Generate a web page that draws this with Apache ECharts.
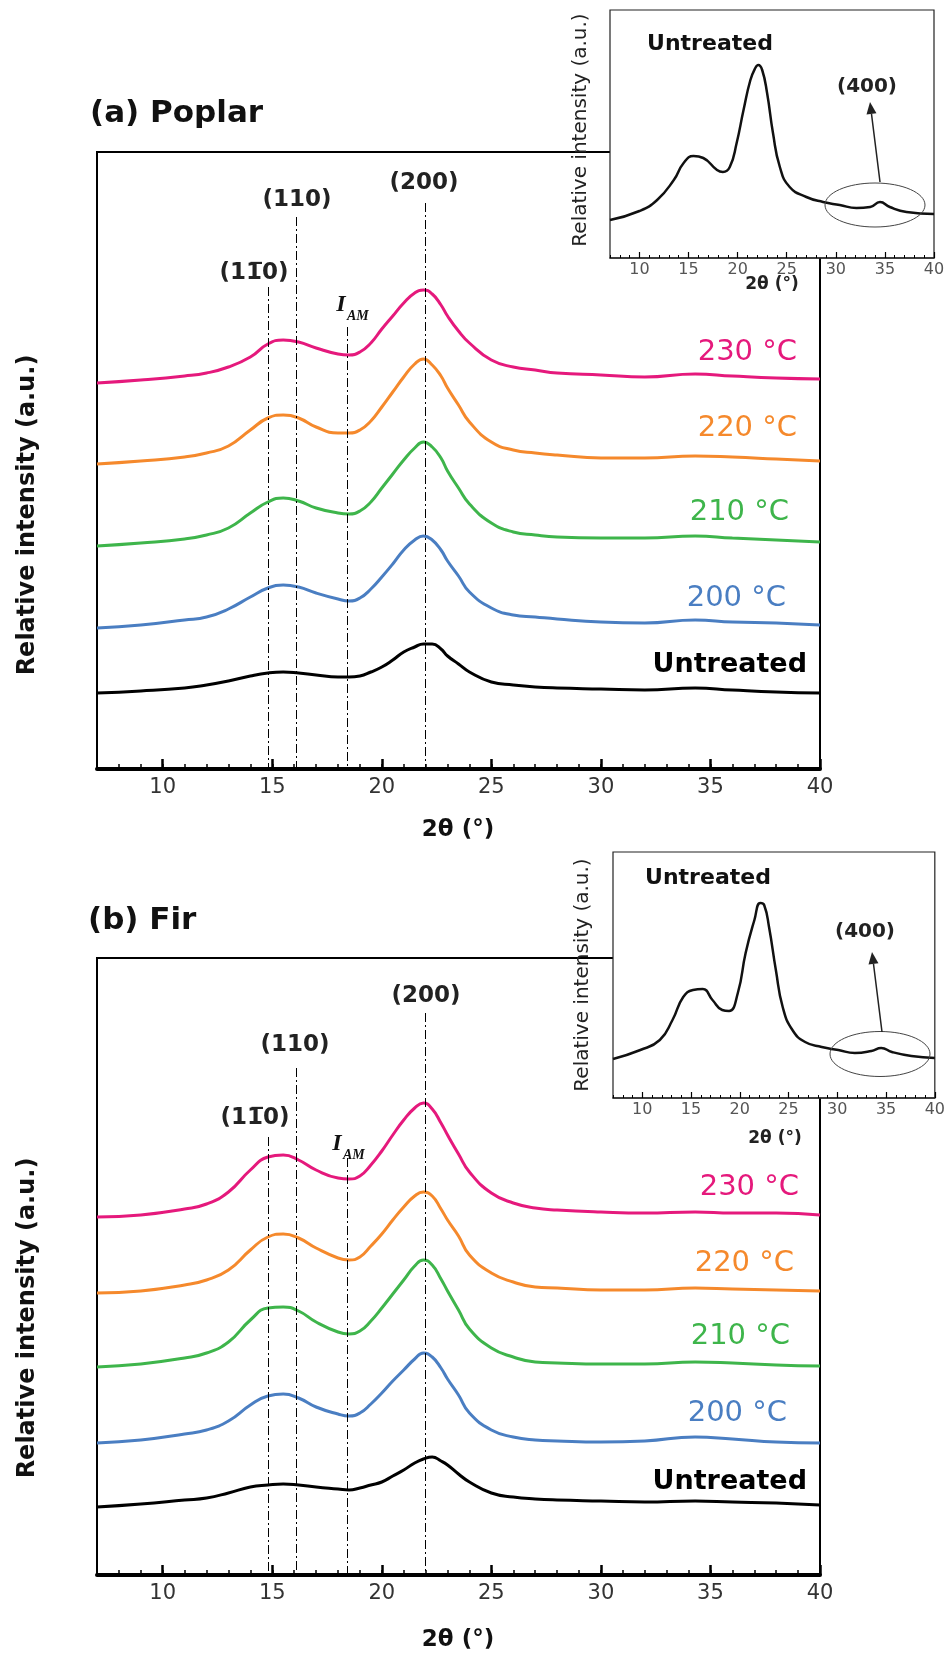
<!DOCTYPE html>
<html><head><meta charset="utf-8">
<script src="https://cdn.jsdelivr.net/npm/echarts@6/dist/echarts.min.js"></script>
<style>html,body{margin:0;padding:0;background:#fff}#c{width:948px;height:1656px}</style>
</head><body><div id="c"></div>
<script>
// ---------- data ----------
const twoTheta = [7, 9, 11, 12, 13, 14, 14.8, 15.5, 16.2, 17, 18, 18.5, 19, 19.5, 20, 20.5, 21, 21.5, 21.9, 22.3, 22.7, 23, 23.5, 24, 25, 26, 27, 28, 30, 32, 34.3, 36, 38, 40];

const poplarUntreated = [76,78,81,84,88,93,96,97,96,94, 92,92,93,97,102,109,117,122,125,125, 120,113,105,97,87,84,82,81,80,79, 81,79,77,76];
const poplar200 = [141,144,149,152,160,172,181,184,182,176, 170,168,171,180,192,205,219,229,233,229, 219,208,193,177,161,154,152,150,147,146, 149,147,146,144];
const poplar210 = [223,226,230,234,241,256,267,271,268,261, 256,255,258,267,281,295,309,321,327,322, 311,298,281,265,246,237,234,232,231,231, 233,231,229,227];
const poplar220 = [305,308,312,316,323,339,351,354,351,342, 336,336,339,348,362,377,392,405,410,404, 393,381,364,347,327,319,316,314,311,311, 313,312,310,308];
const poplar230 = [386,389,393,396,402,412,425,429,427,421, 415,414,417,426,440,453,466,476,479,475, 464,453,438,426,409,402,399,396,394,392, 395,393,391,390];

const firUntreated = [68,71,75,77,82,88,90,91,90,88, 86,85,87,90,93,99,105,112,116,118, 114,110,101,93,82,78,76,75,74,73, 74,73,72,70];
const fir200 = [132,135,141,145,154,170,179,181,177,168, 161,159,162,171,182,194,205,216,222,218, 207,196,180,162,145,138,135,134,133,134, 138,136,133,132];
const fir210 = [208,211,217,222,233,255,267,268,264,253, 243,241,244,254,267,281,295,309,315,310, 296,284,265,246,227,218,213,212,211,211, 213,212,210,209];
const fir220 = [282,284,290,295,305,325,338,341,337,327, 317,315,318,329,341,355,368,379,383,379, 366,355,339,320,302,293,288,287,285,285, 287,286,285,284];
const fir230 = [358,360,366,371,383,405,418,420,415,405, 397,396,399,410,424,440,455,467,472,466, 452,440,421,403,382,372,367,365,363,362, 363,362,362,360];

const insetThetaPoplar = [7, 10, 11.8, 13.5, 14.5, 15.5, 16.5, 17.9, 18.5, 19.2, 19.9, 20.6, 21.3, 21.8, 22.1, 22.5, 23, 23.6, 24.3, 25.3, 27, 28.7, 30.4, 32.1, 33.5, 34.5, 35.5, 37.2, 40];
const insetPoplarUntreated = [38, 47, 58, 78, 95, 102, 100, 88, 86, 91, 115, 148, 178, 190, 193, 188, 165, 125, 91, 71, 61, 56, 53, 50, 51, 56, 51, 46, 44];
const insetThetaFir = [7, 9.8, 11.8, 13.1, 14.2, 15.2, 16.2, 17.2, 18.2, 18.9, 19.8, 20.6, 21.5, 22.1, 22.5, 23, 23.7, 24.4, 25.4, 26.7, 28.4, 30.1, 31.8, 33.5, 34.5, 35.6, 37.6, 40];
const insetFirUntreated = [39, 48, 58, 78, 101, 108, 109, 98, 88, 87, 105, 145, 178, 195, 193, 171, 128, 91, 68, 56, 51, 48, 45, 47, 50, 46, 42, 40];

const majorTicks = [10, 15, 20, 25, 30, 35, 40];
const seriesNames = ['Untreated', '200 °C', '210 °C', '220 °C', '230 °C'];
const seriesColors = ['#000000', '#4a7ec2', '#3eb54b', '#f5892c', '#e5197c'];
const peakPositions = [14.8, 16.1, 18.4, 22.0];
const peakTopsPoplar = [482, 552, 442, 566];
const peakTopsFir = [438, 507, 417, 562];

// ---------- chart ----------
const FONT = 'DejaVu Sans';
const SERIF = 'Liberation Serif';
const SMOOTH = 0.5;
const chart = echarts.init(document.getElementById('c'), null, {renderer: 'canvas'});
const pairs = (xs, ys) => xs.map((x, i) => [x, ys[i]]);
const fmt5 = v => (v % 5 === 0 ? String(v) : '');

const grid = [
  {left: 97, top: 152, width: 723, height: 617, show: true, borderColor: '#000', borderWidth: 2, backgroundColor: 'rgba(0,0,0,0)', z: 0},
  {left: 610, top: 10, width: 324, height: 248, show: true, borderColor: '#222', borderWidth: 1.2, backgroundColor: '#fff', z: 10},
  {left: 97, top: 958, width: 723, height: 617, show: true, borderColor: '#000', borderWidth: 2, backgroundColor: 'rgba(0,0,0,0)', z: 0},
  {left: 613, top: 852, width: 324, height: 246, show: true, borderColor: '#222', borderWidth: 1.2, backgroundColor: '#fff', z: 10}
];

function xPair(g, inset) {
  const z = inset ? 11 : 1;
  return [
    {gridIndex: g, type: 'value', min: 7, max: 40, interval: 1, position: 'bottom', z: z,
     axisLine: {show: true, onZero: false, lineStyle: {color: inset ? '#222' : '#000', width: inset ? 1.5 : 4}},
     axisTick: {show: true, inside: true, length: inset ? 3 : 5, lineStyle: {color: '#000', width: inset ? 1 : 1.5}},
     axisLabel: {show: true, formatter: fmt5, margin: inset ? 4 : 8, fontSize: inset ? 16 : 21, fontFamily: FONT, color: inset ? '#555' : '#333'},
     splitLine: {show: false}},
    {gridIndex: g, type: 'value', min: 7, max: 40, interval: 1, position: 'bottom', z: z,
     axisLine: {show: false, onZero: false},
     axisTick: {show: true, inside: true, length: inset ? 6 : 10, customValues: majorTicks, lineStyle: {color: '#000', width: inset ? 1.2 : 2.5}},
     axisLabel: {show: false},
     splitLine: {show: false}}
  ];
}
const xAxis = [].concat(xPair(0, false), xPair(1, true), xPair(2, false), xPair(3, true));
const yAxis = [
  {gridIndex: 0, type: 'value', min: 0, max: 617, show: false},
  {gridIndex: 1, type: 'value', min: 0, max: 248, show: false},
  {gridIndex: 2, type: 'value', min: 0, max: 617, show: false},
  {gridIndex: 3, type: 'value', min: 0, max: 246, show: false}
];

const series = [];
function addPanel(xi, yi, curves, tops) {
  curves.forEach((vals, i) => {
    const s = {
      type: 'line', name: seriesNames[i], xAxisIndex: xi, yAxisIndex: yi,
      data: pairs(twoTheta, vals), symbol: 'none', showSymbol: false, smooth: SMOOTH,
      lineStyle: {color: seriesColors[i], width: 3}, z: 3, silent: true, animation: false
    };
    if (i === 0) {
      s.markLine = {
        silent: true, symbol: ['none', 'none'], animation: false, label: {show: false},
        lineStyle: {color: '#000', width: 1, type: [9, 3, 2, 3]},
        data: peakPositions.map((x, k) => [{coord: [x, tops[k]]}, {coord: [x, 0]}])
      };
    }
    series.push(s);
  });
}
addPanel(0, 0, [poplarUntreated, poplar200, poplar210, poplar220, poplar230], peakTopsPoplar);
addPanel(4, 2, [firUntreated, fir200, fir210, fir220, fir230], peakTopsFir);
series.push({type: 'line', name: 'Untreated inset (a)', xAxisIndex: 2, yAxisIndex: 1, data: pairs(insetThetaPoplar, insetPoplarUntreated),
  symbol: 'none', smooth: SMOOTH, lineStyle: {color: '#111', width: 2.5}, z: 12, silent: true, animation: false});
series.push({type: 'line', name: 'Untreated inset (b)', xAxisIndex: 6, yAxisIndex: 3, data: pairs(insetThetaFir, insetFirUntreated),
  symbol: 'none', smooth: SMOOTH, lineStyle: {color: '#111', width: 2.5}, z: 12, silent: true, animation: false});

// ---------- annotations ----------
function txt(x, y, text, o) {
  const el = {type: 'text', x: x, y: y, z: 100, silent: true,
    style: Object.assign({text: text, fontFamily: FONT, fontSize: 20, fill: '#000', align: 'center', verticalAlign: 'middle'}, o || {})};
  if (o && o.rot) { el.rotation = o.rot; delete el.style.rot; }
  return el;
}
function arrow(x1, y1, x2, y2) {
  const dx = x2 - x1, dy = y2 - y1, L = Math.hypot(dx, dy), ux = dx / L, uy = dy / L;
  const bx = x2 - ux * 12, by = y2 - uy * 12, px = -uy * 5, py = ux * 5;
  return [
    {type: 'line', z: 100, silent: true, shape: {x1: x1, y1: y1, x2: bx, y2: by}, style: {stroke: '#222', lineWidth: 1.5}},
    {type: 'polygon', z: 100, silent: true, shape: {points: [[x2, y2], [bx + px, by + py], [bx - px, by - py]]}, style: {fill: '#222'}}
  ];
}
function panelTexts(p) {
  const e = [];
  e.push(txt(p.titleX, p.titleY, p.title, {fontWeight: 'bold', fontSize: 31, align: 'left', fill: '#111'}));
  e.push(txt(p.l1[0], p.l1[1], '(11\u03050)', {fontWeight: 'bold', fontSize: 23, fill: '#222'}));
  e.push(txt(p.l2[0], p.l2[1], '(110)', {fontWeight: 'bold', fontSize: 23, fill: '#222'}));
  e.push(txt(p.l3[0], p.l3[1], '(200)', {fontWeight: 'bold', fontSize: 23, fill: '#222'}));
  e.push(txt(p.iam[0], p.iam[1], 'I', {fontFamily: SERIF, fontStyle: 'italic', fontWeight: 'bold', fontSize: 24, fill: '#111'}));
  e.push(txt(p.iam[0] + 6, p.iam[1] + 11, 'AM', {fontFamily: SERIF, fontStyle: 'italic', fontWeight: 'bold', fontSize: 14, align: 'left', fill: '#111'}));
  for (let i = 4; i >= 1; i--) {
    e.push(txt(p.cl[i][0], p.cl[i][1], seriesNames[i], {fontSize: 29, align: 'right', fill: seriesColors[i]}));
  }
  e.push(txt(p.cl[0][0], p.cl[0][1], seriesNames[0], {fontSize: 27, fontWeight: 'bold', align: 'right', fill: '#000'}));
  e.push(txt(458, p.xnY, '2θ (°)', {fontSize: 23, fontWeight: 'bold', fill: '#111'}));
  e.push(txt(28, p.ynY, 'Relative intensity (a.u.)', {fontSize: 24, fontWeight: 'bold', fill: '#111', rot: Math.PI / 2}));
  // inset
  e.push(txt(p.iu[0], p.iu[1], 'Untreated', {fontSize: 22, fontWeight: 'bold', fill: '#111'}));
  e.push(txt(p.i400[0], p.i400[1], '(400)', {fontSize: 20, fontWeight: 'bold', fill: '#222'}));
  e.push(txt(p.ix[0], p.ix[1], '2θ (°)', {fontSize: 17, fontWeight: 'bold', fill: '#222'}));
  e.push(txt(p.iy[0], p.iy[1], 'Relative intensity (a.u.)', {fontSize: 20, fill: '#222', rot: Math.PI / 2}));
  e.push({type: 'ellipse', z: 100, silent: true, shape: {cx: p.ell[0], cy: p.ell[1], rx: p.ell[2], ry: p.ell[3]}, style: {fill: 'rgba(0,0,0,0)', stroke: '#444', lineWidth: 1}});
  return e.concat(arrow(p.arr[0], p.arr[1], p.arr[2], p.arr[3]));
}
const elements = [].concat(
  panelTexts({title: '(a) Poplar', titleX: 90, titleY: 114,
    l1: [254, 273], l2: [297, 200], l3: [424, 183], iam: [341, 305],
    cl: [[807, 665], [786, 598], [789, 512], [797, 428], [797, 352]],
    xnY: 830, ynY: 515,
    iu: [710, 44], i400: [867, 87], ix: [772, 285], iy: [581, 130],
    ell: [875, 205, 50, 22], arr: [880, 182, 870, 102]}),
  panelTexts({title: '(b) Fir', titleX: 88, titleY: 921,
    l1: [255, 1118], l2: [295, 1045], l3: [426, 996], iam: [337, 1144],
    cl: [[807, 1482], [787, 1413], [790, 1336], [794, 1263], [799, 1187]],
    xnY: 1640, ynY: 1318,
    iu: [708, 878], i400: [865, 932], ix: [775, 1139], iy: [583, 975],
    ell: [880, 1054, 50, 22.5], arr: [882, 1032, 872, 952]})
);

chart.setOption({
  animation: false,
  backgroundColor: '#fff',
  grid: grid, xAxis: xAxis, yAxis: yAxis, series: series,
  graphic: {elements: elements}
});
</script>
</body></html>
